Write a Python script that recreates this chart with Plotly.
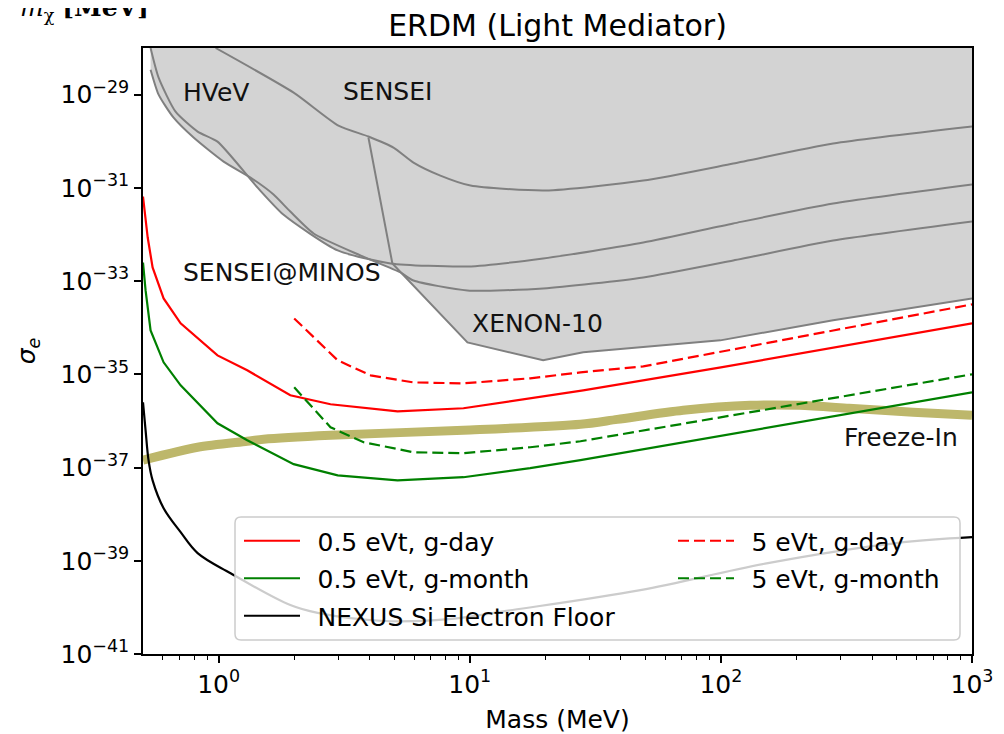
import numpy as np
import plotly.graph_objects as go

# ---------------- data ----------------
# Existing exclusion limits (grey)
mass_hvev = [0.536, 0.577, 0.674, 0.825, 0.99, 1.43, 1.81, 2.98, 4.84, 9.79, 19.6, 49.1, 112, 280, 1000]
sig_hvev = [1.0e-28, 2.31e-29, 4.3e-30, 1.61e-30, 9.8e-31, 1.01e-31, 2.68e-32, 4.54e-33, 2.39e-33,
            2.06e-33, 3.05e-33, 6.7e-33, 1.72e-32, 4.6e-32, 1.18e-31]

mass_minos = [0.536, 0.577, 0.662, 0.795, 1.047, 1.34, 1.655, 1.93, 2.39, 3.67, 5.3, 5.97, 9.79, 19.6,
              49.1, 112, 280, 1000]
sig_minos = [3.43e-29, 1.0e-29, 3.2e-30, 1.2e-30, 3.66e-31, 1.66e-31, 7.2e-32, 3.1e-32, 1.05e-32,
             3.55e-33, 1.53e-33, 1.03e-33, 6.3e-34, 6.95e-34, 1.2e-33, 2.77e-33, 7.4e-33, 1.9e-32]

mass_sensei = [0.973, 1.99, 3.0, 3.95, 4.97, 5.97, 7.64, 10.07, 20, 49.1, 112, 280, 1000]
sig_sensei = [1.0e-28, 1.1e-29, 2.16e-30, 1.26e-30, 7.3e-31, 3.48e-31, 1.83e-31, 1.12e-31, 8.75e-32,
              1.43e-31, 3.32e-31, 8.9e-31, 2.06e-30]

mass_xenon = [3.95, 4.92, 9.79, 19.6, 28.3, 99.5, 280, 1000]
sig_xenon = [1.2e-30, 2.39e-33, 4.84e-35, 2.0e-35, 2.96e-35, 5.35e-35, 1.44e-34, 4.25e-34]

# Projections
mass_r = [0.5, 0.522, 0.546, 0.604, 0.706, 0.99, 1.30, 1.93, 2.79, 5.16, 9.44, 17.4, 28.3, 100, 1000]
sig_r = [6.5e-32, 8.6e-33, 1.96e-33, 4.24e-34, 1.24e-34, 2.55e-35, 1.22e-35, 3.55e-36, 2.28e-36,
         1.61e-36, 1.87e-36, 3.05e-36, 4.54e-36, 1.41e-35, 1.24e-34]

mass_g = [0.5, 0.512, 0.536, 0.604, 0.706, 0.99, 1.30, 1.99, 2.98, 5.16, 9.44, 17.4, 27.6, 1000]
sig_g = [2.5e-33, 6.3e-34, 8.7e-35, 1.81e-35, 5.8e-36, 8.9e-37, 3.85e-37, 1.18e-37, 6.8e-38,
         5.3e-38, 6.2e-38, 9.7e-38, 1.44e-37, 4.1e-36]

mass_rd = [2.0, 2.98, 4.03, 5.97, 9.44, 17.4, 27.6, 49.1, 280, 1000]
sig_rd = [1.58e-34, 2.0e-35, 9.5e-36, 6.7e-36, 6.4e-36, 8.2e-36, 1.1e-35, 1.48e-35, 8.7e-35, 3.16e-34]

mass_gd = [2.0, 2.79, 3.78, 5.97, 9.44, 17.4, 27.6, 1000]
sig_gd = [5.26e-36, 7.3e-37, 3.49e-37, 2.13e-37, 2.03e-37, 2.72e-37, 3.66e-37, 1.0e-35]

mass_floor = [0.5, 0.512, 0.526, 0.546, 0.604, 0.706, 0.825, 1.116, 1.93, 2.48, 4.58, 8.23, 14.8,
              47.8, 154, 499, 1000]
sig_floor = [2.5e-36, 6.3e-37, 1.44e-37, 5.3e-38, 1.34e-38, 4.1e-39, 1.46e-39, 5.4e-40, 1.12e-40,
             7.6e-41, 5.1e-41, 5.6e-41, 8.8e-41, 2.35e-40, 8.9e-40, 2.39e-39, 3.2e-39]

mass_fi = [0.5, 0.825, 1.30, 1.51, 2.79, 9.44, 27.6, 38.7, 70.8, 131, 205, 324, 583, 1000]
sig_fi = [1.44e-37, 2.72e-37, 3.66e-37, 4.05e-37, 4.93e-37, 6.3e-37, 8.47e-37, 1.08e-36, 1.69e-36,
          2.16e-36, 2.16e-36, 1.87e-36, 1.53e-36, 1.32e-36]

# Text labels: (text, mass, sigma, anchor)
region_labels = [("HVeV", 0.706, 1.1e-29, "left"),
                 ("SENSEI", 3.06, 1.15e-29, "left"),
                 ("SENSEI@MINOS", 0.706, 1.53e-33, "left"),
                 ("XENON-10", 10.06, 1.24e-34, "left"),
                 ("Freeze-In", 897, 4.5e-37, "right")]

x_tick_exp = [0, 1, 2, 3]
y_tick_exp = [-41, -39, -37, -35, -33, -31, -29]
x_minor = [0.6, 0.7, 0.8, 0.9] + [d * m for m in (1, 10, 100) for d in range(2, 10)]

# ---------------- geometry ----------------
OFF = 8                      # page body margin of the html page
WIN_W, WIN_H = 1004, 734
W, H = WIN_W - OFF, WIN_H - OFF
PL, PR, PT, PB = 143, 972, 48, 654          # plot area in window pixels
ML, MT = PL - OFF, PT - OFF
MR, MB = W - (PR - OFF), H - (PB - OFF)
PW, PH = PR - PL, PB - PT
TOP = 1e-20
FONT = "DejaVu Sans"


def px(v):
    return (v - PL) / PW


def py(v):
    return (PB - v) / PH


fig = go.Figure()

limits = [(mass_hvev, sig_hvev, "spline"), (mass_minos, sig_minos, "spline"),
          (mass_sensei, sig_sensei, "spline"), (mass_xenon, sig_xenon, "linear")]
for xs, ys, shp in limits:
    fig.add_trace(go.Scatter(x=xs, y=[TOP] * len(xs), mode="lines", line=dict(width=0),
                             showlegend=False, hoverinfo="skip"))
    fig.add_trace(go.Scatter(x=xs, y=ys, mode="lines", fill="tonexty", fillcolor="#d3d3d3",
                             line=dict(width=0, shape=shp, smoothing=0.6),
                             showlegend=False, hoverinfo="skip"))
for xs, ys, shp in limits:
    fig.add_trace(go.Scatter(x=xs, y=ys, mode="lines",
                             line=dict(color="#808080", width=2, shape=shp, smoothing=0.6),
                             showlegend=False, hoverinfo="skip"))

fig.add_trace(go.Scatter(x=mass_fi, y=sig_fi, mode="lines",
                         line=dict(color="#bdb76b", width=9, shape="spline", smoothing=0.8),
                         showlegend=False))

SP = "\u2002"


def add_proj(xs, ys, name, color, dash, legend, shape="linear"):
    fig.add_trace(go.Scatter(x=xs, y=ys, mode="lines", name=SP + name, legend=legend,
                             legendgroup=name,
                             line=dict(color=color, width=2.2, dash=dash, shape=shape)))


add_proj(mass_r, sig_r, "0.5 eVt, g-day", "#ff0000", "solid", "legend")
add_proj(mass_g, sig_g, "0.5 eVt, g-month", "#008000", "solid", "legend")
add_proj(mass_floor, sig_floor, "NEXUS Si Electron Floor", "#000000", "solid", "legend", "spline")
add_proj(mass_rd, sig_rd, "5 eVt, g-day", "#ff0000", "11px,5px", "legend2")
add_proj(mass_gd, sig_gd, "5 eVt, g-month", "#008000", "11px,5px", "legend2")

for text, mx, sy, anc in region_labels:
    fig.add_annotation(x=np.log10(mx), y=np.log10(sy), xref="x", yref="y", text=text,
                       showarrow=False, xanchor=anc, yanchor="middle",
                       font=dict(family=FONT, size=25, color="#111111"))

# cropped leftover label at the very top-left
fig.add_annotation(x=px(84), y=py(9), xref="paper", yref="paper",
                   text="<i>m</i><sub>χ</sub> <b>[MeV]</b>", showarrow=False,
                   xanchor="center", yanchor="middle",
                   font=dict(family="DejaVu Serif", size=25, color="black"))

# legend frame
bx0, bx1, by0, by1, rad = 235, 960, 517, 640, 6
rx, ry = rad / PW, rad / PH
x0, x1, y0, y1 = px(bx0), px(bx1), py(by1), py(by0)
path = (f"M{x0+rx},{y0} L{x1-rx},{y0} Q{x1},{y0} {x1},{y0+ry} L{x1},{y1-ry} Q{x1},{y1} {x1-rx},{y1} "
        f"L{x0+rx},{y1} Q{x0},{y1} {x0},{y1-ry} L{x0},{y0+ry} Q{x0},{y0} {x0+rx},{y0} Z")
fig.add_shape(type="path", path=path, xref="paper", yref="paper", layer="above",
              fillcolor="rgba(255,255,255,0.8)", line=dict(color="#cccccc", width=1.5))

leg_common = dict(xanchor="left", yanchor="top", bgcolor="rgba(0,0,0,0)", borderwidth=0,
                  font=dict(family=FONT, size=25, color="black"), tracegroupgap=2,
                  itemwidth=56, orientation="v")
fig.update_layout(
    width=W, height=H,
    margin=dict(l=ML, r=MR, t=MT, b=MB, pad=0, autoexpand=False),
    paper_bgcolor="white", plot_bgcolor="white",
    font=dict(family=FONT, size=25, color="black"),
    title=dict(text="ERDM (Light Mediator)", x=0.5, xref="paper", xanchor="center",
               y=(H - (25 - OFF)) / H, yref="container", yanchor="middle",
               font=dict(family=FONT, size=30, color="black")),
    legend=dict(x=px(239), y=py(518), **leg_common),
    legend2=dict(x=px(673), y=py(518), **leg_common),
    xaxis=dict(type="log", range=[np.log10(0.5), 3], showgrid=False, zeroline=False,
               showline=True, mirror=True, linecolor="black", linewidth=1.5,
               ticks="outside", ticklen=7, tickwidth=1.5, tickcolor="black",
               tickvals=[10.0 ** e for e in x_tick_exp],
               ticktext=[f"10<sup>{e}</sup>" for e in x_tick_exp],
               tickfont=dict(family=FONT, size=25), automargin=False,
               minor=dict(tickvals=x_minor, ticks="outside", ticklen=4, tickwidth=1.2,
                          tickcolor="black", showgrid=False),
               title=dict(text="Mass (MeV)", font=dict(family=FONT, size=25), standoff=16)),
    yaxis=dict(type="log", range=[-41, -28], showgrid=False, zeroline=False,
               showline=True, mirror=True, linecolor="black", linewidth=1.5,
               ticks="outside", ticklen=7, tickwidth=1.5, tickcolor="black",
               tickvals=[10.0 ** e for e in y_tick_exp],
               ticktext=[f"10<sup>−{abs(e)}</sup>" for e in y_tick_exp],
               tickfont=dict(family=FONT, size=25), automargin=False,
               title=dict(text="<i>σ</i><sub><i>e</i></sub>", font=dict(family=FONT, size=25),
                          standoff=18)),
)

fig.write_html("out.html")
